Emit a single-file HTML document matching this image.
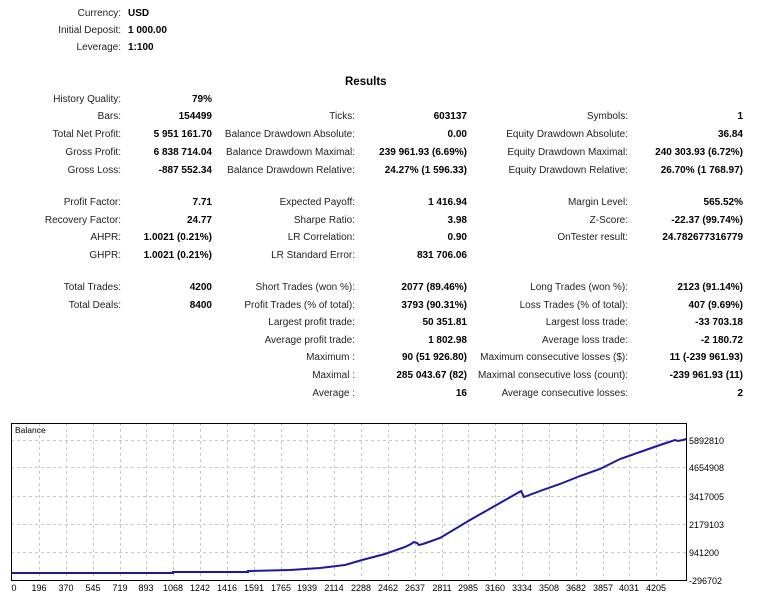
<!DOCTYPE html>
<html><head><meta charset="utf-8"><style>
body{margin:0;width:762px;height:600px;background:#fff;position:relative;overflow:hidden;font-family:"Liberation Sans",sans-serif;font-size:10px;color:#000}
.l,.v{position:absolute;white-space:nowrap;line-height:12px}
.l{color:#222}
.v{font-weight:bold}
</style></head><body>
<div class="l" style="right:641px;top:8px">Currency:</div><div class="v" style="left:128px;top:8px">USD</div>
<div class="l" style="right:641px;top:25px">Initial Deposit:</div><div class="v" style="left:128px;top:25px">1 000.00</div>
<div class="l" style="right:641px;top:42px">Leverage:</div><div class="v" style="left:128px;top:42px">1:100</div>
<div class="v" style="left:345px;top:76px;font-size:11.5px">Results</div>

<div class="l" style="right:641px;top:94px">History Quality:</div><div class="v" style="right:550px;top:94px">79%</div>

<div class="l" style="right:641px;top:111px">Bars:</div><div class="v" style="right:550px;top:111px">154499</div>
<div class="l" style="right:407px;top:111px">Ticks:</div><div class="v" style="right:295px;top:111px">603137</div>
<div class="l" style="right:134px;top:111px">Symbols:</div><div class="v" style="right:19px;top:111px">1</div>

<div class="l" style="right:641px;top:129px">Total Net Profit:</div><div class="v" style="right:550px;top:129px">5 951 161.70</div>
<div class="l" style="right:407px;top:129px">Balance Drawdown Absolute:</div><div class="v" style="right:295px;top:129px">0.00</div>
<div class="l" style="right:134px;top:129px">Equity Drawdown Absolute:</div><div class="v" style="right:19px;top:129px">36.84</div>

<div class="l" style="right:641px;top:147px">Gross Profit:</div><div class="v" style="right:550px;top:147px">6 838 714.04</div>
<div class="l" style="right:407px;top:147px">Balance Drawdown Maximal:</div><div class="v" style="right:295px;top:147px">239 961.93 (6.69%)</div>
<div class="l" style="right:134px;top:147px">Equity Drawdown Maximal:</div><div class="v" style="right:19px;top:147px">240 303.93 (6.72%)</div>

<div class="l" style="right:641px;top:165px">Gross Loss:</div><div class="v" style="right:550px;top:165px">-887 552.34</div>
<div class="l" style="right:407px;top:165px">Balance Drawdown Relative:</div><div class="v" style="right:295px;top:165px">24.27% (1 596.33)</div>
<div class="l" style="right:134px;top:165px">Equity Drawdown Relative:</div><div class="v" style="right:19px;top:165px">26.70% (1 768.97)</div>

<div class="l" style="right:641px;top:197px">Profit Factor:</div><div class="v" style="right:550px;top:197px">7.71</div>
<div class="l" style="right:407px;top:197px">Expected Payoff:</div><div class="v" style="right:295px;top:197px">1 416.94</div>
<div class="l" style="right:134px;top:197px">Margin Level:</div><div class="v" style="right:19px;top:197px">565.52%</div>

<div class="l" style="right:641px;top:215px">Recovery Factor:</div><div class="v" style="right:550px;top:215px">24.77</div>
<div class="l" style="right:407px;top:215px">Sharpe Ratio:</div><div class="v" style="right:295px;top:215px">3.98</div>
<div class="l" style="right:134px;top:215px">Z-Score:</div><div class="v" style="right:19px;top:215px">-22.37 (99.74%)</div>

<div class="l" style="right:641px;top:232px">AHPR:</div><div class="v" style="right:550px;top:232px">1.0021 (0.21%)</div>
<div class="l" style="right:407px;top:232px">LR Correlation:</div><div class="v" style="right:295px;top:232px">0.90</div>
<div class="l" style="right:134px;top:232px">OnTester result:</div><div class="v" style="right:19px;top:232px">24.782677316779</div>

<div class="l" style="right:641px;top:250px">GHPR:</div><div class="v" style="right:550px;top:250px">1.0021 (0.21%)</div>
<div class="l" style="right:407px;top:250px">LR Standard Error:</div><div class="v" style="right:295px;top:250px">831 706.06</div>

<div class="l" style="right:641px;top:282px">Total Trades:</div><div class="v" style="right:550px;top:282px">4200</div>
<div class="l" style="right:407px;top:282px">Short Trades (won %):</div><div class="v" style="right:295px;top:282px">2077 (89.46%)</div>
<div class="l" style="right:134px;top:282px">Long Trades (won %):</div><div class="v" style="right:19px;top:282px">2123 (91.14%)</div>

<div class="l" style="right:641px;top:300px">Total Deals:</div><div class="v" style="right:550px;top:300px">8400</div>
<div class="l" style="right:407px;top:300px">Profit Trades (% of total):</div><div class="v" style="right:295px;top:300px">3793 (90.31%)</div>
<div class="l" style="right:134px;top:300px">Loss Trades (% of total):</div><div class="v" style="right:19px;top:300px">407 (9.69%)</div>

<div class="l" style="right:407px;top:317px">Largest profit trade:</div><div class="v" style="right:295px;top:317px">50 351.81</div>
<div class="l" style="right:134px;top:317px">Largest loss trade:</div><div class="v" style="right:19px;top:317px">-33 703.18</div>

<div class="l" style="right:407px;top:335px">Average profit trade:</div><div class="v" style="right:295px;top:335px">1 802.98</div>
<div class="l" style="right:134px;top:335px">Average loss trade:</div><div class="v" style="right:19px;top:335px">-2 180.72</div>

<div class="l" style="right:407px;top:352px">Maximum :</div><div class="v" style="right:295px;top:352px">90 (51 926.80)</div>
<div class="l" style="right:134px;top:352px">Maximum consecutive losses ($):</div><div class="v" style="right:19px;top:352px">11 (-239 961.93)</div>

<div class="l" style="right:407px;top:370px">Maximal :</div><div class="v" style="right:295px;top:370px">285 043.67 (82)</div>
<div class="l" style="right:134px;top:370px">Maximal consecutive loss (count):</div><div class="v" style="right:19px;top:370px">-239 961.93 (11)</div>

<div class="l" style="right:407px;top:388px">Average :</div><div class="v" style="right:295px;top:388px">16</div>
<div class="l" style="right:134px;top:388px">Average consecutive losses:</div><div class="v" style="right:19px;top:388px">2</div>

<svg width="762" height="600" style="position:absolute;left:0;top:0" font-family="Liberation Sans, sans-serif" font-size="9">
<g stroke="#c8c8c8" stroke-dasharray="3,3" stroke-width="1">
<line x1="11" x2="686" y1="440.5" y2="440.5"/><line x1="11" x2="686" y1="467.5" y2="467.5"/><line x1="11" x2="686" y1="496.5" y2="496.5"/><line x1="11" x2="686" y1="524.5" y2="524.5"/><line x1="11" x2="686" y1="552.5" y2="552.5"/>
<line x1="39.5" x2="39.5" y1="423" y2="580"/><line x1="66.5" x2="66.5" y1="423" y2="580"/><line x1="93.5" x2="93.5" y1="423" y2="580"/><line x1="120.5" x2="120.5" y1="423" y2="580"/><line x1="146.5" x2="146.5" y1="423" y2="580"/><line x1="173.5" x2="173.5" y1="423" y2="580"/><line x1="200.5" x2="200.5" y1="423" y2="580"/><line x1="227.5" x2="227.5" y1="423" y2="580"/><line x1="254.5" x2="254.5" y1="423" y2="580"/><line x1="281.5" x2="281.5" y1="423" y2="580"/><line x1="307.5" x2="307.5" y1="423" y2="580"/><line x1="334.5" x2="334.5" y1="423" y2="580"/><line x1="361.5" x2="361.5" y1="423" y2="580"/><line x1="388.5" x2="388.5" y1="423" y2="580"/><line x1="415.5" x2="415.5" y1="423" y2="580"/><line x1="442.5" x2="442.5" y1="423" y2="580"/><line x1="468.5" x2="468.5" y1="423" y2="580"/><line x1="495.5" x2="495.5" y1="423" y2="580"/><line x1="522.5" x2="522.5" y1="423" y2="580"/><line x1="549.5" x2="549.5" y1="423" y2="580"/><line x1="576.5" x2="576.5" y1="423" y2="580"/><line x1="603.5" x2="603.5" y1="423" y2="580"/><line x1="629.5" x2="629.5" y1="423" y2="580"/><line x1="656.5" x2="656.5" y1="423" y2="580"/>
</g>
<rect x="11.5" y="423.5" width="675" height="157" fill="none" stroke="#000"/>
<text x="15" y="433" font-size="8.5">Balance</text>
<polyline fill="none" stroke="#1a1aa0" stroke-width="2" points="12,573 173,573 173,572 248,572 248,571 290,570 320,568 345,565 362,560 385,554 405,547 411,544 414,542 417,543 419,545 423,544 440,538 470,520 500,503 521,491 524,497 540,491 560,484 580,476 600,469 620,459 640,452 660,445 675,440 678,441 683,440 686,439"/>
<g font-size="9" text-anchor="middle">
<text x="14" y="591">0</text><text x="39" y="591">196</text><text x="66" y="591">370</text><text x="93" y="591">545</text><text x="120" y="591">719</text><text x="146" y="591">893</text><text x="173" y="591">1068</text><text x="200" y="591">1242</text><text x="227" y="591">1416</text><text x="254" y="591">1591</text><text x="281" y="591">1765</text><text x="307" y="591">1939</text><text x="334" y="591">2114</text><text x="361" y="591">2288</text><text x="388" y="591">2462</text><text x="415" y="591">2637</text><text x="442" y="591">2811</text><text x="468" y="591">2985</text><text x="495" y="591">3160</text><text x="522" y="591">3334</text><text x="549" y="591">3508</text><text x="576" y="591">3682</text><text x="603" y="591">3857</text><text x="629" y="591">4031</text><text x="656" y="591">4205</text>
</g>
<g font-size="9">
<text x="689" y="444">5892810</text><text x="689" y="471">4654908</text><text x="689" y="500">3417005</text><text x="689" y="528">2179103</text><text x="689" y="556">941200</text><text x="689" y="584">-296702</text>
</g>
</svg>
</body></html>
